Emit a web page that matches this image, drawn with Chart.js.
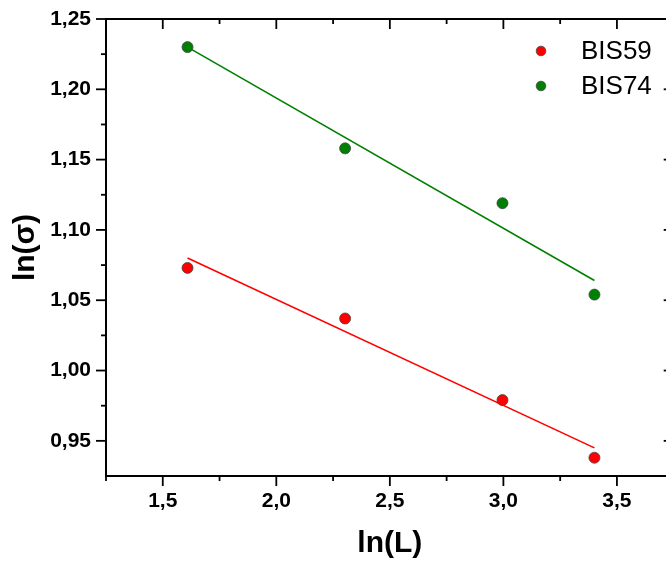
<!DOCTYPE html>
<html>
<head>
<meta charset="utf-8">
<script src="https://cdn.jsdelivr.net/npm/chart.js@4"></script>
<style>
  html, body { margin: 0; padding: 0; background: #fff; overflow: hidden; }
  #wrap { width: 680px; height: 562px; }
</style>
</head>
<body>
<div id="wrap"><canvas id="myChart" width="680" height="562"></canvas></div>
<script>
// datos
const lnL     = [1.609, 2.303, 2.996, 3.401]
const bis59   = [1.073, 1.037, 0.979, 0.938]
const bis74   = [1.230, 1.158, 1.119, 1.054]
// rectas de ajuste (extremos)
const fitX    = [1.609, 3.401]
const fit59   = [1.080, 0.945]
const fit74   = [1.230, 1.064]

const xTicks      = [1.5, 2.0, 2.5, 3.0, 3.5]
const xMinorTicks = [1.25, 1.75, 2.25, 2.75, 3.25, 3.75]
const yTicks      = [0.95, 1.00, 1.05, 1.10, 1.15, 1.20, 1.25]
const yMinorTicks = [0.975, 1.025, 1.075, 1.125, 1.175, 1.225]

const series = [
  { label: 'BIS59', color: '#ff0000', y: bis59, fit: fit59 },
  { label: 'BIS74', color: '#008000', y: bis74, fit: fit74 },
]

const coma = v => v.toFixed(2).replace('.', ',')

let datasets = []
series.forEach(s => {
  datasets.push({
    label: s.label,
    data: lnL.map((x, i) => ({ x: x, y: s.y[i] })),
    showLine: false,
    pointRadius: 5.5,
    pointBackgroundColor: s.color,
    pointBorderColor: '#444',
    pointBorderWidth: 0.8,
    order: 0,
  })
  datasets.push({
    label: s.label + ' fit',
    data: fitX.map((x, i) => ({ x: x, y: s.fit[i] })),
    showLine: true,
    borderColor: s.color,
    borderWidth: 1.6,
    pointRadius: 0,
    order: 1,
  })
})

// ejes tipo Origin: marco, ticks mayores y menores, leyenda
const ejes = {
  id: 'ejes',
  afterDraw(chart) {
    const ctx = chart.ctx
    const a = chart.chartArea
    const xs = chart.scales.x
    const ys = chart.scales.y
    ctx.save()
    ctx.strokeStyle = '#000'
    ctx.lineWidth = 2
    ctx.strokeRect(a.left, a.top, a.right - a.left, a.bottom - a.top)

    ctx.lineWidth = 1.8
    const tick = (x1, y1, x2, y2) => {
      ctx.beginPath(); ctx.moveTo(x1, y1); ctx.lineTo(x2, y2); ctx.stroke()
    }
    xTicks.forEach(v => {
      const p = xs.getPixelForValue(v)
      tick(p, a.bottom, p, a.bottom + 10)
      tick(p, a.top, p, a.top + 10)
    })
    xMinorTicks.forEach(v => {
      const p = xs.getPixelForValue(v)
      tick(p, a.bottom, p, a.bottom + 5)
      tick(p, a.top, p, a.top + 5)
    })
    yTicks.forEach(v => {
      const p = ys.getPixelForValue(v)
      tick(a.left - 10, p, a.left, p)
      tick(a.right - 10, p, a.right, p)
    })
    yMinorTicks.forEach(v => {
      const p = ys.getPixelForValue(v)
      tick(a.left - 5, p, a.left, p)
      tick(a.right - 5, p, a.right, p)
    })

    // leyenda
    ctx.font = '26px "Liberation Sans", Arial, sans-serif'
    ctx.textBaseline = 'middle'
    ctx.textAlign = 'left'
    series.forEach((s, i) => {
      const y = 51 + i * 35
      ctx.beginPath()
      ctx.arc(541, y, 4.8, 0, Math.PI * 2)
      ctx.fillStyle = s.color
      ctx.fill()
      ctx.lineWidth = 0.8
      ctx.strokeStyle = '#444'
      ctx.stroke()
      ctx.fillStyle = '#000'
      ctx.fillText(s.label, 581, y + 1)
    })
    ctx.restore()
  }
}

const ctx = document.getElementById('myChart').getContext('2d')

const chart = new Chart(ctx, {
  type: 'scatter',
  data: { datasets: datasets },
  plugins: [ejes],
  options: {
    responsive: false,
    animation: false,
    layout: { padding: { top: 19, right: 5, left: 0, bottom: 0 } },
    plugins: { legend: { display: false }, tooltip: { enabled: false } },
    scales: {
      x: {
        type: 'linear',
        min: 1.25,
        max: 3.75,
        afterBuildTicks: s => { s.ticks = xTicks.map(v => ({ value: v })) },
        afterFit: s => { s.height = 86; s.paddingLeft = 0; s.paddingRight = 0 },
        grid: { display: false, drawTicks: false },
        border: { display: false },
        ticks: {
          padding: 13,
          color: '#000',
          maxRotation: 0,
          font: { family: '"Liberation Sans", Arial', size: 21, weight: 'bold' },
          callback: v => v.toFixed(1).replace('.', ','),
        },
        title: {
          display: true,
          text: 'ln(L)',
          color: '#000',
          padding: { top: 0, bottom: 0 },
          font: { family: '"Liberation Sans", Arial', size: 30, weight: 'bold' },
        },
      },
      y: {
        type: 'linear',
        min: 0.925,
        max: 1.25,
        afterBuildTicks: s => { s.ticks = yTicks.map(v => ({ value: v })) },
        afterFit: s => { s.width = 106; s.paddingTop = 0; s.paddingBottom = 0 },
        grid: { display: false, drawTicks: false },
        border: { display: false },
        ticks: {
          padding: 15,
          color: '#000',
          font: { family: '"Liberation Sans", Arial', size: 21, weight: 'bold' },
          callback: v => coma(v),
        },
        title: {
          display: true,
          text: 'ln(σ)',
          color: '#000',
          padding: { top: 8, bottom: 0 },
          font: { family: '"Liberation Sans", Arial', size: 30, weight: 'bold' },
        },
      },
    },
  },
})
</script>
</body>
</html>
